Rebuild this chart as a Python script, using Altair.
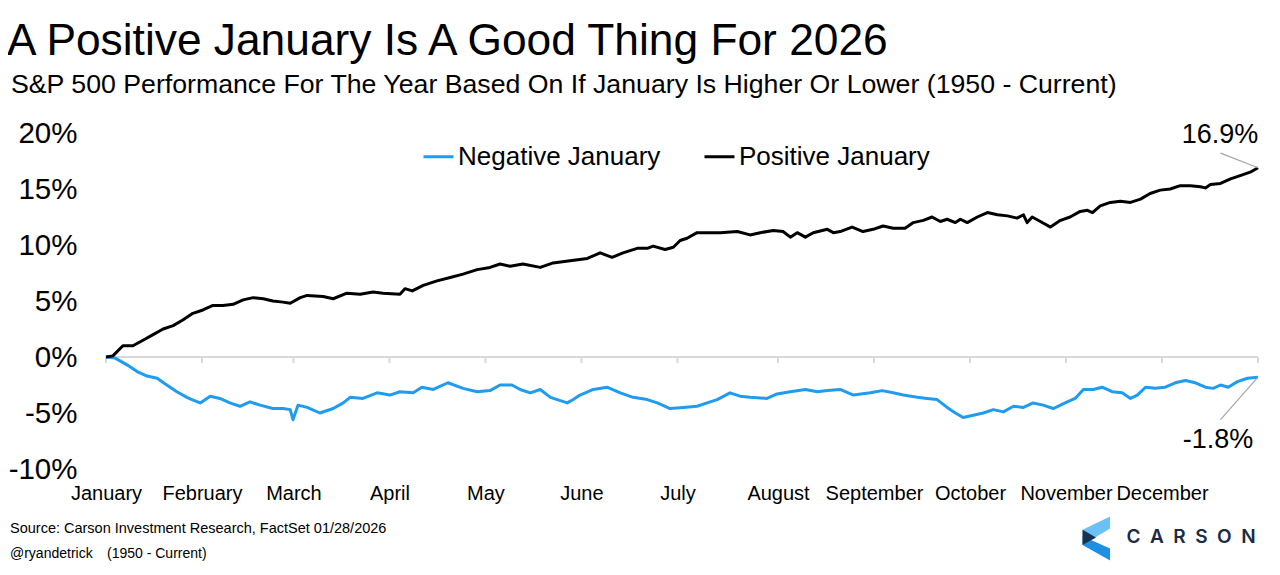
import altair as alt
import pandas as pd

# ---------------- data ----------------
pos_day = [0, 1.5, 3.7, 5.9, 8.1, 10.3, 12.5, 14.7, 16.8, 19.0, 21.2, 23.4, 25.6, 27.8, 30.0, 32.2,
           34.4, 36.5, 38.7, 40.3, 42.5, 44.0, 47.5, 49.7, 52.7, 55.6, 58.4, 60.6, 64.3, 65.4, 67.0,
           69.4, 72.4, 75.3, 78.1, 81.2, 84.0, 86.2, 88.4, 91.2, 95.0, 97.8, 101.5, 105.3, 108.1,
           110.7, 113.1, 116.2, 118.4, 119.7, 122.3, 124.1, 125.6, 127.1, 129.3, 131.5, 134.4, 138.1,
           140.9, 143.1, 146.0, 148.1, 149.7, 151.2, 153.0, 154.7, 157.8, 159.1, 160.6, 163.2, 165.6,
           167.8, 170.0, 172.2, 174.8, 176.6, 178.8, 180.7, 182.5, 184.0, 185.8, 186.9, 188.4, 190.6,
           192.8, 195.0, 197.2, 199.3, 200.7, 201.5, 202.6, 204.4, 206.6, 208.8, 210.9, 213.1, 214.7,
           215.8, 217.5, 219.7, 221.9, 224.1, 226.3, 228.4, 230.6, 232.8, 235.0, 237.2, 239.4, 240.5,
           241.6, 243.8, 246.0, 248.1, 250.3, 252.0]
pos_val = [0.0, 0.1, 1.0, 1.0, 1.5, 2.0, 2.5, 2.8, 3.3, 3.9, 4.2, 4.6, 4.6, 4.7, 5.1, 5.3,
           5.2, 5.0, 4.9, 4.8, 5.3, 5.5, 5.4, 5.2, 5.7, 5.6, 5.8, 5.7, 5.6, 6.1, 5.9,
           6.4, 6.8, 7.1, 7.4, 7.8, 8.0, 8.3, 8.1, 8.3, 8.0, 8.4, 8.6, 8.8, 9.3,
           8.9, 9.3, 9.7, 9.7, 9.9, 9.6, 9.8, 10.4, 10.6, 11.1, 11.1, 11.1, 11.2,
           10.9, 11.1, 11.3, 11.2, 10.7, 11.1, 10.7, 11.1, 11.4, 11.1, 11.2, 11.6, 11.2,
           11.4, 11.7, 11.5, 11.5, 12.0, 12.2, 12.5, 12.1, 12.3, 12.0, 12.3, 12.0, 12.5,
           12.9, 12.7, 12.6, 12.4, 12.7, 12.0, 12.5, 12.1, 11.6, 12.2, 12.5, 13.0, 13.1,
           12.9, 13.5, 13.8, 13.9, 13.8, 14.1, 14.6, 14.9, 15.0, 15.3, 15.3, 15.2, 15.1,
           15.4, 15.5, 15.9, 16.2, 16.5, 16.9]

neg_day = [0, 2.0, 4.6, 6.8, 9.0, 11.2, 13.3, 15.5, 17.7, 18.8, 20.6, 22.8, 24.9, 27.1, 29.3, 31.5,
           33.7, 36.5, 38.7, 40.3, 40.9, 42.0, 44.0, 46.8, 49.7, 51.9, 53.4, 56.2, 59.3, 62.1,
           64.3, 67.2, 69.1, 71.6, 74.8, 78.1, 81.2, 84.0, 86.2, 88.8, 90.6, 92.8, 95.0, 97.2,
           100.9, 102.2, 103.7, 106.6, 109.6, 112.5, 115.3, 118.4, 120.6, 123.4, 126.3, 129.3,
           131.5, 133.7, 136.5, 138.7, 140.9, 144.6, 146.8, 149.7, 153.0, 155.6, 157.8, 160.6,
           163.5, 167.2, 169.8, 172.2, 174.4, 177.5, 179.6, 181.8, 184.0, 185.8, 187.5, 189.7,
           191.9, 194.1, 196.3, 198.5, 200.7, 202.8, 205.0, 207.2, 208.8, 209.8, 212.0, 213.8,
           216.0, 217.9, 220.1, 222.3, 224.1, 225.6, 227.4, 229.5, 231.7, 233.9, 236.1, 238.3,
           240.5, 242.2, 243.8, 245.5, 247.5, 249.7, 252.0]
neg_val = [0.0, -0.1, -0.7, -1.3, -1.7, -1.9, -2.5, -3.1, -3.6, -3.8, -4.1, -3.5, -3.7, -4.1, -4.4, -4.0,
           -4.3, -4.6, -4.6, -4.7, -5.6, -4.3, -4.5, -5.0, -4.6, -4.1, -3.6, -3.7, -3.2, -3.4,
           -3.1, -3.2, -2.7, -2.9, -2.3, -2.8, -3.1, -3.0, -2.5, -2.5, -2.9, -3.2, -2.9, -3.6,
           -4.1, -3.8, -3.4, -2.9, -2.7, -3.2, -3.6, -3.8, -4.1, -4.6, -4.5, -4.4,
           -4.1, -3.8, -3.2, -3.5, -3.6, -3.7, -3.3, -3.1, -2.9, -3.1, -3.0, -2.9,
           -3.4, -3.2, -3.0, -3.2, -3.4, -3.6, -3.7, -3.8, -4.5, -5.0, -5.4, -5.2,
           -5.0, -4.7, -4.9, -4.4, -4.5, -4.1, -4.3, -4.6, -4.3, -4.1, -3.7, -2.9,
           -2.9, -2.7, -3.1, -3.2, -3.7, -3.4, -2.7, -2.8, -2.7, -2.3, -2.1, -2.3,
           -2.7, -2.8, -2.5, -2.7, -2.2, -1.9, -1.8]

series_names = ["Negative January", "Positive January"]
series_colors = ["#1F9CF0", "#000000"]

month_names = ["January", "February", "March", "April", "May", "June", "July",
               "August", "September", "October", "November", "December"]
month_starts = [0, 21, 41, 62, 83, 104, 125, 147, 168, 189, 210, 231]
year_end = 252
y_ticks = [-10, -5, 0, 5, 10, 15, 20]

title_text = "A Positive January Is A Good Thing For 2026"
subtitle_text = "S&P 500 Performance For The Year Based On If January Is Higher Or Lower (1950 - Current)"
source_text = "Source: Carson Investment Research, FactSet 01/28/2026"
handle_text = "@ryandetrick"
period_text = "(1950 - Current)"
brand_text = "C\u2002A\u2002R\u2002S\u2002O\u2002N"

# annotation leader-line end points (data units)
pos_leader = (243.8, 18.2)
neg_leader = (243.8, -5.6)

# ---------------- build tables ----------------
df = pd.concat([
    pd.DataFrame({"day": neg_day, "value": neg_val, "series": series_names[0]}),
    pd.DataFrame({"day": pos_day, "value": pos_val, "series": series_names[1]}),
], ignore_index=True)

ticks_df = pd.DataFrame({"day": month_starts + [year_end], "y0": 0.0, "y1": -0.55})
zero_df = pd.DataFrame({"x0": [0], "x1": [year_end], "y": [0]})

ann_df = pd.DataFrame({
    "day": [pos_day[-1], neg_day[-1]],
    "value": [pos_val[-1], neg_val[-1]],
    "lx": [pos_leader[0], neg_leader[0]],
    "ly": [pos_leader[1], neg_leader[1]],
    "label": [f"{pos_val[-1]:.1f}%", f"{neg_val[-1]:.1f}%"],
})

W, H = 1152, 336
FONT = "Liberation Sans, Arial, sans-serif"

xscale = alt.Scale(domain=[0, year_end], nice=False, zero=False)
yscale = alt.Scale(domain=[-10, 20], nice=False)

label_map = "{" + ",".join(f"'{d}':'{n}'" for d, n in zip(month_starts, month_names)) + "}"

x_axis = alt.Axis(values=month_starts, labelExpr=f"{label_map}[datum.value]",
                  ticks=False, domain=False, grid=False, labelFontSize=20,
                  labelFont=FONT, labelColor="#000", labelPadding=14,
                  labelFlush=False, labelOverlap=False, title=None)
y_axis = alt.Axis(values=y_ticks, labelExpr="datum.value + '%'", ticks=False,
                  domain=False, grid=False, labelFontSize=29.5, labelFont=FONT,
                  labelColor="#000", labelPadding=29, title=None)


def X(field):
    return alt.X(field, scale=xscale, axis=x_axis, title=None)


def Y(field):
    return alt.Y(field, scale=yscale, axis=y_axis, title=None)


lines = alt.Chart(df).mark_line(strokeWidth=3, strokeJoin="round").encode(
    x=X("day:Q"),
    y=Y("value:Q"),
    color=alt.Color("series:N", scale=alt.Scale(domain=series_names, range=series_colors),
                    legend=alt.Legend(orient="none", legendX=316, legendY=7, direction="horizontal",
                                      title=None, symbolType="stroke", symbolStrokeWidth=3,
                                      symbolSize=900, labelFontSize=26, labelFont=FONT,
                                      labelColor="#000", labelOffset=3, columnPadding=37,
                                      padding=0, symbolOpacity=1, labelLimit=0)),
    order=alt.Order("day:Q"),
)

zero_line = alt.Chart(zero_df).mark_rule(color="#D9D9D9", strokeWidth=2).encode(
    x=X("x0:Q"), x2="x1:Q", y=Y("y:Q"))

tick_marks = alt.Chart(ticks_df).mark_rule(color="#D9D9D9", strokeWidth=2).encode(
    x=X("day:Q"), y=Y("y0:Q"), y2="y1:Q")

leaders = alt.Chart(ann_df).mark_rule(color="#A6A6A6", strokeWidth=1.2).encode(
    x=X("day:Q"), y=Y("value:Q"), x2="lx:Q", y2="ly:Q")

ann_pos = alt.Chart(ann_df.iloc[[0]]).mark_text(fontSize=27, font=FONT, color="#000",
                                                  align="center", baseline="alphabetic",
                                                  dx=-38, dy=-25).encode(
    x=X("day:Q"), y=Y("value:Q"), text="label:N")
ann_neg = alt.Chart(ann_df.iloc[[1]]).mark_text(fontSize=27, font=FONT, color="#000",
                                                  align="center", baseline="alphabetic",
                                                  dx=-40, dy=71).encode(
    x=X("day:Q"), y=Y("value:Q"), text="label:N")


def free_text(txt, x, y, size, font=FONT, color="#000", weight="normal", align="left"):
    return alt.Chart(pd.DataFrame({"t": [txt]})).mark_text(
        fontSize=size, font=font, color=color, fontWeight=weight, align=align,
        baseline="alphabetic").encode(x=alt.value(x), y=alt.value(y), text="t:N")


title = free_text(title_text, -99, -78, 44.3)
subtitle = free_text(subtitle_text, -95, -40, 26.7)
source = free_text(source_text, -96, 400, 14.5)
handle = free_text(handle_text, -96, 425, 14)
period = free_text(period_text, 1, 425, 14)
brand = free_text(brand_text, 1085, 410, 19, font="Inter, Roboto, sans-serif", color="#1B2B45",
                  weight=600, align="center")

# Carson logo (chevron), unit-square symbol paths
logo_df = pd.DataFrame({
    "path": [
        "M -0.61 -0.1 L 0.64 0.45 L 0.64 1 L -0.61 0.3 Z",
        "M 0.64 -1 L 0.64 -0.45 L -0.61 0.3 L -0.61 -0.4 Z",
        "M -0.61 -0.4 L 0.0 -0.05 L -0.61 0.3 Z",
    ],
    "col": ["#1E8FE1", "#6BC0F5", "#16324F"],
    "k": [0, 1, 2],
})
logo = alt.Chart(logo_df).mark_point(filled=True, opacity=1, strokeWidth=0).encode(
    x=alt.value(990), y=alt.value(405.5), shape=alt.Shape("path:N", scale=None),
    color=alt.Color("col:N", scale=None), size=alt.value(1936), order="k:Q")

chart = alt.layer(
    zero_line, tick_marks, lines, leaders, ann_pos, ann_neg,
    title, subtitle, source, handle, period, brand, logo
).properties(
    width=W, height=H,
    background="white",
    padding={"left": 98, "top": 125, "right": 14, "bottom": 98},
    autosize=alt.AutoSizeParams(type="none"),
).configure_view(strokeWidth=0, stroke=None).configure_axis(
    domain=False, ticks=False, grid=False
)

chart.save("out.html", embed_options={"renderer": "svg", "actions": False})
